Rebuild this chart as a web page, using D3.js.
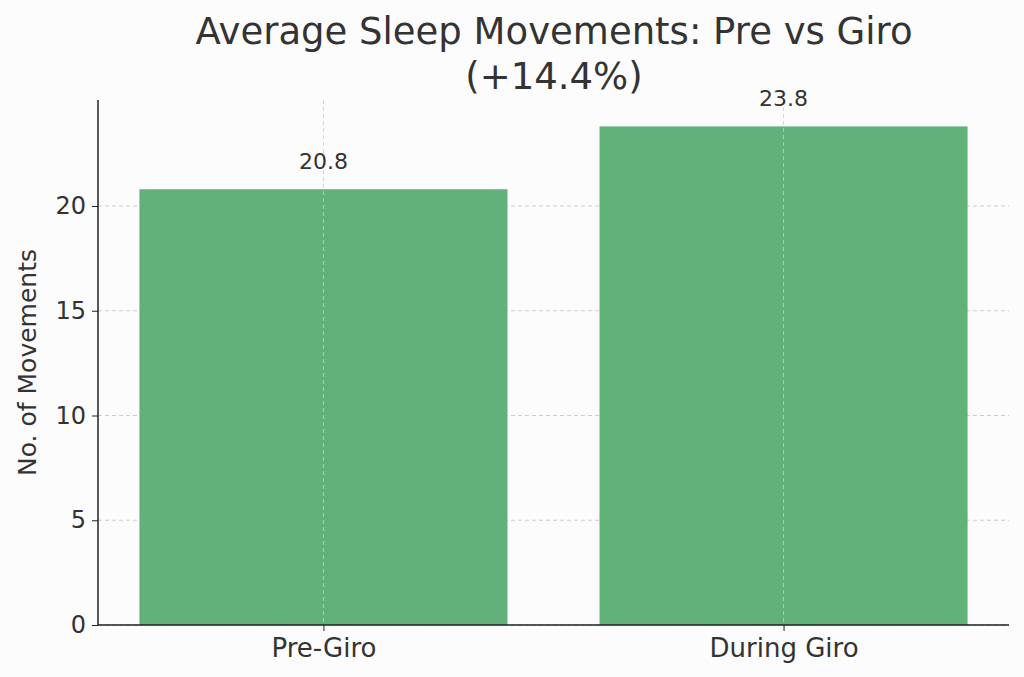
<!DOCTYPE html>
<html><head><meta charset="utf-8">
<script src="https://cdn.jsdelivr.net/npm/d3@7"></script>
<style>body{margin:0;background:#fcfcfc}</style>
</head><body><svg id="chart" width="1024" height="677"></svg>
<script>
var categories = ["Pre-Giro", "During Giro"];
var values = [20.8, 23.8];
var yTicks = [0, 5, 10, 15, 20];

var svg = d3.select("#chart");
var mLeft = 98, mRight = 1009, mTop = 100, mBottom = 625;
var font = "DejaVu Sans, sans-serif";

svg.append("rect").attr("width", 1024).attr("height", 677).attr("fill", "#fcfcfc");

var x = d3.scaleLinear().domain([-0.49, 1.49]).range([mLeft, mRight]);
var y = d3.scaleLinear().domain([0, 25.06]).range([mBottom, mTop]);

// grid
svg.selectAll(".hg").data(yTicks).enter().append("line")
  .attr("x1", mLeft).attr("x2", mRight)
  .attr("y1", function(d){return y(d);}).attr("y2", function(d){return y(d);})
  .attr("stroke", "#ccc").attr("stroke-dasharray", "4,3").attr("stroke-width", 1);

svg.selectAll(".bar").data(values).enter().append("rect")
  .attr("x", function(d, i){return x(i - 0.4);})
  .attr("width", x(0.4) - x(-0.4))
  .attr("y", function(d){return y(d);})
  .attr("height", function(d){return mBottom - y(d);})
  .attr("fill", "#62b07a");

svg.selectAll(".vg").data(categories).enter().append("line")
  .attr("x1", function(d, i){return x(i);}).attr("x2", function(d, i){return x(i);})
  .attr("y1", mTop).attr("y2", mBottom)
  .attr("stroke", "#ccc").attr("stroke-opacity", 0.8).attr("stroke-dasharray", "4,3");

svg.selectAll(".lbl").data(values).enter().append("text")
  .attr("x", function(d, i){return x(i);})
  .attr("y", function(d){return y(d) - 20;})
  .attr("text-anchor", "middle").attr("font-family", font).attr("font-size", 22)
  .attr("fill", "#333").text(function(d){return d.toFixed(1);});

// axes
var yAxis = svg.append("g").attr("transform", "translate(" + mLeft + ",0)")
  .call(d3.axisLeft(y).tickValues(yTicks).tickSize(6).tickPadding(6));
yAxis.select(".domain").attr("d", "M0," + mTop + "V" + mBottom).attr("stroke", "#222").attr("stroke-width", 1.5);
var xAxis = svg.append("g").attr("transform", "translate(0," + mBottom + ")")
  .call(d3.axisBottom(x).tickValues([0, 1]).tickFormat(function(d){return categories[d];}).tickSize(6).tickPadding(8));
xAxis.select(".domain").attr("d", "M" + mLeft + ",0H" + mRight).attr("stroke", "#222").attr("stroke-width", 1.5);
svg.selectAll(".tick text").attr("font-family", font).attr("font-size", 24).attr("fill", "#333");
xAxis.selectAll(".tick text").attr("font-size", 26);
svg.selectAll(".tick line").attr("stroke", "#222");

svg.append("text").attr("transform", "translate(36," + ((mTop + mBottom) / 2) + ") rotate(-90)")
  .attr("text-anchor", "middle").attr("font-family", font).attr("font-size", 25).attr("fill", "#333")
  .text("No. of Movements");

svg.append("text").attr("x", 554).attr("y", 44).attr("text-anchor", "middle")
  .attr("font-family", font).attr("font-size", 37).attr("fill", "#333")
  .text("Average Sleep Movements: Pre vs Giro");
svg.append("text").attr("x", 554).attr("y", 89).attr("text-anchor", "middle")
  .attr("font-family", font).attr("font-size", 37).attr("fill", "#333")
  .text("(+14.4%)");
</script></body></html>
